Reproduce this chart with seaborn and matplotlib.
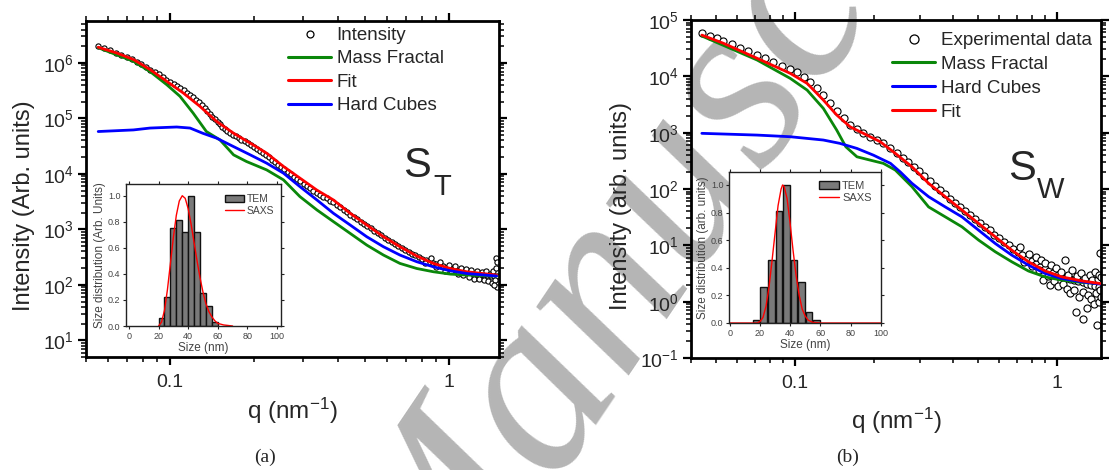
import numpy as np
import pandas as pd
import matplotlib
matplotlib.use("Agg")
import matplotlib.pyplot as plt
import seaborn as sns
from matplotlib.ticker import LogLocator, NullFormatter
from matplotlib.patches import Patch
from matplotlib.lines import Line2D

# ---------------- data: panel (a) S_T ----------------
a_data_q = [0.055, 0.058, 0.061, 0.064, 0.067, 0.070, 0.073, 0.076, 0.079, 0.082, 0.085, 0.088, 0.091, 0.094,
            0.097, 0.100, 0.103, 0.106, 0.109, 0.112, 0.115, 0.118, 0.121, 0.124, 0.127, 0.130, 0.133, 0.136,
            0.139, 0.142, 0.145, 0.148, 0.151, 0.154, 0.157, 0.160, 0.164, 0.168, 0.172, 0.176, 0.180, 0.185,
            0.190, 0.195, 0.200, 0.205, 0.210, 0.215, 0.220, 0.226, 0.232, 0.238, 0.244, 0.250, 0.257, 0.264,
            0.271, 0.278, 0.285, 0.293, 0.301, 0.309, 0.317, 0.326, 0.335, 0.344, 0.354, 0.364, 0.374, 0.385,
            0.396, 0.407, 0.419, 0.431, 0.443, 0.456, 0.469, 0.482, 0.496, 0.510, 0.525, 0.540, 0.556, 0.572,
            0.588, 0.605, 0.622, 0.640, 0.658, 0.677, 0.696, 0.716, 0.737, 0.758, 0.780, 0.802, 0.825, 0.849,
            0.873, 0.898, 0.924, 0.950, 0.977, 1.005, 1.034, 1.063, 1.094, 1.125, 1.157, 1.190, 1.224, 1.259,
            1.295, 1.332, 1.370, 1.409, 1.449, 1.480,
            0.82, 0.86, 0.90, 0.93, 0.97, 1.00, 1.02, 1.05, 1.08, 1.10, 1.12, 1.15, 1.18, 1.20, 1.23, 1.26,
            1.28, 1.31, 1.33, 1.36, 1.38, 1.40, 1.42, 1.44, 1.46, 1.47, 1.48, 1.49, 1.47, 1.45]
a_data_I = [2.05e6, 1.85e6, 1.68e6, 1.52e6, 1.40e6, 1.28e6, 1.16e6, 1.05e6, 9.5e5, 8.5e5, 7.6e5, 6.9e5, 6.2e5, 5.6e5,
            5.0e5, 4.6e5, 4.2e5, 3.8e5, 3.5e5, 3.2e5, 2.9e5, 2.65e5, 2.4e5, 2.15e5, 1.95e5, 1.75e5, 1.55e5, 1.38e5,
            1.22e5, 1.08e5, 9.6e4, 8.6e4, 7.8e4, 7.1e4, 6.5e4, 6.0e4, 5.5e4, 5.1e4, 4.75e4, 4.45e4, 4.15e4, 3.85e4,
            3.55e4, 3.3e4, 3.05e4, 2.8e4, 2.6e4, 2.4e4, 2.2e4, 2.0e4, 1.8e4, 1.62e4, 1.47e4, 1.34e4, 1.2e4, 1.08e4,
            9.8e3, 8.9e3, 8.1e3, 7.3e3, 6.6e3, 6.0e3, 5.5e3, 5.0e3, 4.6e3, 4.2e3, 3.9e3, 3.6e3, 3.3e3, 3.05e3,
            2.75e3, 2.5e3, 2.25e3, 2.05e3, 1.85e3, 1.68e3, 1.52e3, 1.38e3, 1.26e3, 1.15e3, 1.04e3, 940, 860, 780,
            710, 650, 600, 550, 505, 465, 430, 395, 365, 340, 315, 295, 275, 262,
            248, 236, 225, 215, 205, 200, 190, 185, 180, 172, 168, 163, 158, 155,
            152, 150, 148, 145, 143, 145,
            250, 300, 210, 260, 180, 230, 175, 215, 160, 200, 150, 195, 140, 185, 130, 175,
            125, 170, 120, 175, 115, 160, 110, 180, 120, 300, 92, 260, 200, 100]

a_fit_q = [0.0553, 0.0644, 0.074, 0.0848, 0.0973, 0.1116, 0.128, 0.147, 0.169, 0.194, 0.222, 0.255, 0.292,
           0.336, 0.385, 0.442, 0.507, 0.582, 0.667, 0.766, 0.879, 1.01, 1.157, 1.48]
a_fit_I = [1.92e6, 1.51e6, 1.15e6, 7.6e5, 4.67e5, 2.87e5, 1.65e5, 8.8e4, 5.4e4, 3.58e4, 2.36e4, 1.36e4, 8.4e3,
           5.1e3, 3.39e3, 1.95e3, 1.2e3, 736, 486, 330, 243, 197, 172, 150]

a_mf_q = [0.0553, 0.074, 0.0848, 0.0973, 0.1086, 0.121, 0.135, 0.151, 0.169, 0.188, 0.222, 0.255, 0.292,
          0.336, 0.385, 0.442, 0.507, 0.582, 0.667, 0.766, 0.879, 1.01, 1.157, 1.48]
a_mf_I = [1.88e6, 1.07e6, 7.0e5, 4.06e5, 2.5e5, 1.25e5, 5.8e4, 4.1e4, 2.2e4, 1.67e4, 1.18e4, 7.8e3, 3.9e3,
          2.24e3, 1.38e3, 847, 521, 344, 243, 197, 172, 156, 150, 144]

a_hc_q = [0.0553, 0.074, 0.0848, 0.1057, 0.118, 0.131, 0.147, 0.169, 0.194, 0.222, 0.255, 0.292, 0.336,
          0.385, 0.442, 0.507, 0.582, 0.667, 0.766, 0.879, 1.01, 1.157, 1.48]
a_hc_I = [5.8e4, 6.2e4, 6.7e4, 7.0e4, 6.7e4, 5.4e4, 4.4e4, 3.1e4, 2.2e4, 1.56e4, 1.03e4, 5.9e3, 3.39e3,
          1.95e3, 1.2e3, 736, 486, 344, 261, 211, 179, 160, 144]

# inset (a)
a_tem_size = [22, 26, 30, 34, 38, 42, 46, 50, 54, 58]
a_tem_freq = [0.06, 0.22, 0.75, 0.81, 0.72, 1.0, 0.72, 0.25, 0.15, 0.03]
a_saxs_size = [20, 22, 24, 26, 28, 30, 32, 34, 36, 38, 40, 42, 44, 46, 48, 50, 52, 54, 56, 58, 60, 64, 70]
a_saxs_val = [0.0, 0.03, 0.12, 0.28, 0.48, 0.68, 0.85, 0.96, 1.0, 0.98, 0.9, 0.78, 0.64, 0.5, 0.37, 0.26,
              0.17, 0.11, 0.07, 0.04, 0.02, 0.008, 0.0]

# ---------------- data: panel (b) S_W ----------------
b_data_q = [0.0440, 0.0474, 0.0502, 0.0532, 0.0573, 0.0616, 0.0663, 0.0715, 0.0768, 0.0826, 0.0889, 0.0957,
            0.1015, 0.1076, 0.114, 0.121, 0.128, 0.136, 0.144, 0.153, 0.162, 0.172, 0.182, 0.193, 0.205,
            0.217, 0.231, 0.244, 0.257, 0.270, 0.283, 0.297, 0.311, 0.326, 0.341, 0.357, 0.373, 0.390, 0.408,
            0.426, 0.445, 0.465, 0.486, 0.507, 0.529, 0.552, 0.576, 0.600, 0.626, 0.652, 0.680, 0.708, 0.737,
            0.767, 0.798, 0.830, 0.863, 0.897, 0.932, 0.968, 1.005, 1.04, 1.08, 1.12, 1.16, 1.20, 1.25, 1.30,
            1.35, 1.40, 1.45,
            0.72, 0.75, 0.78, 0.80, 0.83, 0.85, 0.87, 0.88, 0.90, 0.92, 0.94, 0.95, 0.97, 0.99, 1.01, 1.03,
            1.05, 1.07, 1.09, 1.10, 1.12, 1.14, 1.16, 1.18, 1.19, 1.21, 1.23, 1.25, 1.26, 1.28, 1.30, 1.31,
            1.33, 1.35, 1.36, 1.38, 1.39, 1.41, 1.42, 1.43, 1.44, 1.45, 1.46, 1.46, 1.47, 1.47]
b_data_I = [5.8e4, 5.3e4, 4.7e4, 4.3e4, 3.7e4, 3.2e4, 2.8e4, 2.4e4, 2.1e4, 1.8e4, 1.55e4, 1.35e4,
            1.17e4, 9.8e3, 8.0e3, 6.2e3, 4.7e3, 3.4e3, 2.45e3, 1.8e3, 1.37e3, 1.14e3, 973, 850, 740,
            646, 525, 429, 360, 300, 250, 205, 170, 140, 115, 95, 80, 67, 56,
            47, 40, 34, 29, 25, 21.5, 18.5, 15.5, 13.5, 11.5, 10, 8.6, 7.6, 6.6,
            5.8, 5.2, 4.6, 4.2, 3.8, 3.5, 3.2, 3.0, 2.8, 2.6, 2.5, 2.4, 2.3, 2.2, 2.1,
            2.0, 1.9, 1.85,
            9.5, 5.0, 7.0, 4.3, 6.2, 3.6, 5.5, 2.4, 4.8, 2.8, 1.95, 4.5, 2.3, 3.9, 1.9, 3.4,
            2.1, 5.5, 1.7, 3.0, 1.4, 3.6, 1.6, 0.66, 2.8, 1.2, 3.2, 0.5, 1.5, 2.6, 0.76, 1.3,
            3.0, 1.1, 2.4, 0.9, 3.3, 1.4, 0.38, 2.5, 1.0, 3.0, 7.3, 1.6, 1.2, 2.7]

b_fit_q = [0.044, 0.0532, 0.0715, 0.0957, 0.111, 0.128, 0.144, 0.162, 0.182, 0.211, 0.241, 0.279, 0.323,
           0.374, 0.433, 0.501, 0.580, 0.671, 0.777, 0.899, 1.04, 1.24, 1.46]
b_fit_I = [5.4e4, 3.86e4, 2.09e4, 1.13e4, 7.5e3, 3.8e3, 2.06e3, 1.27e3, 973, 691, 429, 248, 126,
           72.8, 42.2, 24.5, 14.2, 8.2, 5.1, 3.52, 2.76, 2.34, 2.1]

b_mf_q = [0.044, 0.0715, 0.0957, 0.111, 0.128, 0.144, 0.156, 0.172, 0.193, 0.217, 0.241, 0.279, 0.323,
          0.374, 0.433, 0.501, 0.580, 0.671, 0.777, 0.899, 1.04, 1.24, 1.46]
b_mf_I = [5.2e4, 1.95e4, 9.2e3, 5.7e3, 2.7e3, 1.11e3, 562, 373, 326, 285, 217, 110, 48,
          32, 21.3, 12.4, 7.7, 5.1, 3.5, 2.75, 2.41, 2.19, 2.1]

b_hc_q = [0.044, 0.0715, 0.0957, 0.128, 0.148, 0.172, 0.199, 0.231, 0.252, 0.279, 0.323, 0.374, 0.433,
          0.501, 0.580, 0.671, 0.777, 0.899, 1.04, 1.24, 1.46]
b_hc_I = [973, 906, 847, 740, 646, 525, 398, 285, 200, 126, 73, 48, 32,
          18.6, 10.8, 6.7, 4.45, 3.17, 2.58, 2.25, 2.05]

# inset (b)
b_tem_size = [17.5, 22.5, 27.5, 32.5, 37.5, 42.5, 47.5, 52.5, 57.5]
b_tem_freq = [0.02, 0.26, 0.46, 0.81, 1.0, 0.46, 0.30, 0.08, 0.02]
b_saxs_size = [0, 18, 20, 22, 24, 26, 28, 30, 32, 34, 35, 36, 38, 40, 42, 44, 46, 48, 50, 52, 55, 60, 100]
b_saxs_val = [0, 0, 0.01, 0.04, 0.12, 0.26, 0.45, 0.65, 0.85, 0.97, 1.0, 0.99, 0.9, 0.72, 0.52, 0.34,
              0.2, 0.1, 0.05, 0.02, 0.005, 0, 0]

# ---------------- style ----------------
sns.set_theme(style="ticks")
plt.rcParams['font.family'] = ['Liberation Sans', 'DejaVu Sans']
plt.rcParams['mathtext.fontset'] = 'custom'
plt.rcParams['mathtext.rm'] = 'Liberation Sans'
plt.rcParams['mathtext.it'] = 'Liberation Sans:italic'
plt.rcParams['mathtext.bf'] = 'Liberation Sans:bold'

GREEN = '#0a870a'
RED = '#ff0000'
BLUE = '#0000ff'
BARC = '#7a7a7a'
W, H = 1112, 470

fig = plt.figure(figsize=(W / 100, H / 100), dpi=100)
fig.patch.set_facecolor('white')


def px_rect(l, t, r, b):
    return [l / W, 1 - b / H, (r - l) / W, (b - t) / H]


def style_main(ax, xlim, ylim):
    ax.set_xscale('log')
    ax.set_yscale('log')
    ax.set_xlim(*xlim)
    ax.set_ylim(*ylim)
    ax.set_facecolor('none')
    for s in ax.spines.values():
        s.set_linewidth(2.0)
        s.set_color('black')
        s.set_visible(True)
    ax.set_xticks([0.1, 1])
    ax.set_xticklabels(['0.1', '1'])
    ax.xaxis.set_minor_locator(LogLocator(base=10, subs=np.arange(2, 10)))
    ax.xaxis.set_minor_formatter(NullFormatter())
    ax.yaxis.set_major_locator(LogLocator(base=10, numticks=20))
    ax.yaxis.set_minor_locator(LogLocator(base=10, subs=np.arange(2, 10), numticks=20))
    ax.yaxis.set_minor_formatter(NullFormatter())
    ax.tick_params(which='both', direction='out', top=True, right=True, bottom=True, left=True,
                   labeltop=False, labelright=False, color='black')
    ax.tick_params(which='major', length=6, width=1.6, labelsize=14, pad=3)
    ax.tick_params(which='minor', length=3.5, width=1.1)
    ax.tick_params(axis='x', which='major', pad=6)


def draw_main(ax, dq, dI, curves, msize):
    sns.scatterplot(x=dq, y=dI, ax=ax, marker='o', s=msize, color='white', edgecolor='black',
                    linewidth=0.8, zorder=2, legend=False)
    for (q, I, c) in curves:
        sns.lineplot(x=q, y=I, ax=ax, color=c, linewidth=2.0, sort=False, estimator=None,
                     legend=False, zorder=3)


def style_inset(ax, xlim, ylim, ylabel):
    ax.set_facecolor('white')
    ax.set_xlim(*xlim)
    ax.set_ylim(*ylim)
    for s in ax.spines.values():
        s.set_linewidth(1.0)
        s.set_color('#222222')
        s.set_visible(True)
    ax.set_xticks([0, 20, 40, 60, 80, 100])
    ax.set_xticklabels(['0', '20', '40', '60', '80', '100'])
    ax.set_yticks([0.0, 0.2, 0.4, 0.6, 0.8, 1.0])
    ax.set_yticklabels(['0.0', '0.2', '0.4', '0.6', '0.8', '1.0'])
    ax.tick_params(which='both', direction='out', top=True, right=True, length=2.5, width=0.8,
                   labelsize=6.5, pad=1.5, labelcolor='#444444', color='#222222')
    ax.set_xlabel('Size (nm)', fontsize=8.5, color='#444444', labelpad=1)
    ax.set_ylabel(ylabel, fontsize=8.5, color='#444444', labelpad=1)


def draw_inset(ax, sizes, freqs, width, sx, sy):
    sns.barplot(x=sizes, y=freqs, ax=ax, native_scale=True, width=width, color=BARC, saturation=1,
                edgecolor='#111111', linewidth=1.0, errorbar=None)
    sns.lineplot(x=sx, y=sy, ax=ax, color=RED, linewidth=1.0, sort=False, estimator=None)


# ---------------- watermark (behind the data) ----------------
fig.text(440 / W, 1 - 660 / H, 'Manuscript', fontsize=180, family='Liberation Serif', style='italic',
         color='#b5b5b5', rotation=56, rotation_mode='anchor', ha='left',
         va='baseline', zorder=-1)

# ---------------- panel (a) ----------------
ax1 = fig.add_axes(px_rect(86, 21, 499, 357))
draw_main(ax1, a_data_q, a_data_I,
          [(a_mf_q, a_mf_I, GREEN), (a_fit_q, a_fit_I, RED), (a_hc_q, a_hc_I, BLUE)], 14)
style_main(ax1, (0.05, 1.51), (5, 5.7e6))
ax1.set_xlabel('q (nm$^{\\mathregular{-1}}$)', fontsize=17.5)
ax1.set_ylabel('Intensity (Arb. units)', fontsize=17)
ax1.xaxis.set_label_coords(0.5, -0.115)
ax1.yaxis.set_label_coords(-0.123, 0.449)

h_a = [Line2D([], [], ls='none', marker='o', ms=5, mfc='white', mec='black', mew=0.9),
       Line2D([], [], color=GREEN, lw=2.2), Line2D([], [], color=RED, lw=2.2), Line2D([], [], color=BLUE, lw=2.2)]
fig.legend(h_a, ['Intensity', 'Mass Fractal', 'Fit', 'Hard Cubes'], loc='upper left',
           bbox_to_anchor=(288 / W, 1 - 27 / H), bbox_transform=fig.transFigure, frameon=False,
           fontsize=13.5, handlelength=2.3, handletextpad=0.3, labelspacing=0.33, borderpad=0,
           borderaxespad=0)
fig.text(403 / W, 1 - 177 / H, 'S', fontsize=30, va='baseline', ha='left')
fig.text(433 / W, 1 - 195 / H, 'T', fontsize=21, va='baseline', ha='left')

axi1 = fig.add_axes(px_rect(126, 184, 281, 326), zorder=5)
draw_inset(axi1, a_tem_size, a_tem_freq, 1.0, a_saxs_size, a_saxs_val)
style_inset(axi1, (-2, 102.7), (0, 1.09), 'Size distribution (Arb. Units)')
axi1.legend([Patch(facecolor=BARC, edgecolor='#111111', lw=1.0), Line2D([], [], color=RED, lw=1.0)],
            ['TEM', 'SAXS'], loc='upper left', bbox_to_anchor=(0.64, 0.93), frameon=False, fontsize=7.5,
            handlelength=1.8, handletextpad=0.3, labelspacing=0.15, borderpad=0, borderaxespad=0,
            labelcolor='#444444')

# ---------------- panel (b) ----------------
ax2 = fig.add_axes(px_rect(691, 20, 1101, 358))
draw_main(ax2, b_data_q, b_data_I,
          [(b_mf_q, b_mf_I, GREEN), (b_hc_q, b_hc_I, BLUE), (b_fit_q, b_fit_I, RED)], 26)
style_main(ax2, (0.04, 1.47), (0.1, 1e5))
ax2.set_xlabel('q (nm$^{\\mathregular{-1}}$)', fontsize=17.5)
ax2.set_ylabel('Intensity (arb. units)', fontsize=17)
ax2.xaxis.set_label_coords(0.5, -0.142)
ax2.yaxis.set_label_coords(-0.144, 0.45)

h_b = [Line2D([], [], ls='none', marker='o', ms=6.5, mfc='white', mec='black', mew=0.9),
       Line2D([], [], color=GREEN, lw=2.2), Line2D([], [], color=BLUE, lw=2.2), Line2D([], [], color=RED, lw=2.2)]
fig.legend(h_b, ['Experimental data', 'Mass Fractal', 'Hard Cubes', 'Fit'], loc='upper left',
           bbox_to_anchor=(892 / W, 1 - 32 / H), bbox_transform=fig.transFigure, frameon=False,
           fontsize=13.5, handlelength=2.3, handletextpad=0.3, labelspacing=0.36, borderpad=0,
           borderaxespad=0)
fig.text(1008 / W, 1 - 180 / H, 'S', fontsize=30, va='baseline', ha='left')
fig.text(1037 / W, 1 - 198 / H, 'W', fontsize=21, va='baseline', ha='left')

axi2 = fig.add_axes(px_rect(729, 172, 881, 323), zorder=5)
draw_inset(axi2, b_tem_size, b_tem_freq, 0.86, b_saxs_size, b_saxs_val)
style_inset(axi2, (-0.5, 100.2), (0, 1.094), 'Size distribution (arb. units)')
for ln in axi2.get_lines():
    ln.set_clip_on(False)
axi2.legend([Patch(facecolor=BARC, edgecolor='#111111', lw=1.0), Line2D([], [], color=RED, lw=1.0)],
            ['TEM', 'SAXS'], loc='upper left', bbox_to_anchor=(0.59, 0.94), frameon=False, fontsize=8,
            handlelength=1.8, handletextpad=0.3, labelspacing=0.15, borderpad=0, borderaxespad=0,
            labelcolor='#444444')

# ---------------- captions ----------------
fig.text(265 / W, 1 - 457 / H, '(a)', fontsize=14, family='Liberation Serif', ha='center', va='center')
fig.text(848 / W, 1 - 457 / H, '(b)', fontsize=14, family='Liberation Serif', ha='center', va='center')

fig.savefig('out.png', dpi=100, facecolor='white')
